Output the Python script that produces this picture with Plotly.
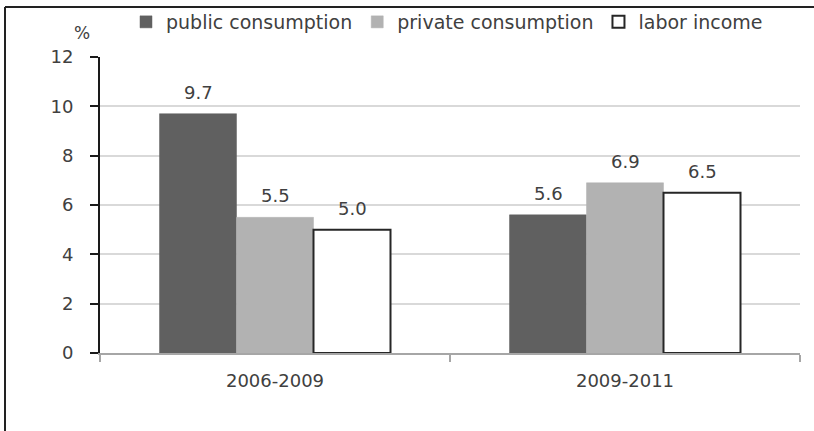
import plotly.graph_objects as go

# Average annual growth rates (%) by period
periods = ["2006-2009", "2009-2011"]
series_names = ["public consumption", "private consumption", "labor income"]
public_consumption = [9.7, 5.6]
private_consumption = [5.5, 6.9]
labor_income = [5.0, 6.5]
y_ticks = [0, 2, 4, 6, 8, 10, 12]

series_values = [public_consumption, private_consumption, labor_income]
fills = ["#606060", "#b2b2b2", "#ffffff"]
outlines = ["#606060", "#b2b2b2", "#262626"]

W, H = 814, 431
M_L, M_R, M_T, M_B = 100, 14, 57, 78
plot_w = W - M_L - M_R
plot_h = H - M_T - M_B
BARGAP = 0.34
FONT = "DejaVu Sans"
TXT = "#404040"

fig = go.Figure()
for name, vals, fc, lc in zip(series_names, series_values, fills, outlines):
    fig.add_trace(go.Bar(
        x=periods, y=vals, name=name,
        marker=dict(color=fc, line=dict(color=lc, width=2 if fc == "#ffffff" else 0.5)),
    ))

# value labels above each bar, shifted to the bar's slot within the group
bar_px = plot_w / len(periods) * (1 - BARGAP) / len(series_values)
annotations = []
for k, vals in enumerate(series_values):
    for p, v in zip(periods, vals):
        annotations.append(dict(
            x=p, y=v, xref="x", yref="y", text=f"{v:.1f}", showarrow=False,
            xshift=(k - (len(series_values) - 1) / 2) * bar_px,
            yanchor="bottom", yshift=9,
            font=dict(family=FONT, size=18, color=TXT),
        ))


def px_x(p):
    return (p - M_L) / plot_w


def px_y(p):
    return (M_T + plot_h - p) / plot_h


# unit label above the y axis
annotations.append(dict(
    x=px_x(82), y=px_y(33), xref="paper", yref="paper",
    text="%", showarrow=False, font=dict(family=FONT, size=17, color=TXT),
    xanchor="center", yanchor="middle",
))

# chart frame (left and top edges)
shapes = [
    dict(type="line", xref="paper", yref="paper", x0=px_x(5), x1=px_x(5),
         y0=px_y(7), y1=px_y(H + 10), line=dict(color="#222222", width=2)),
    dict(type="line", xref="paper", yref="paper", x0=px_x(5), x1=px_x(W + 10),
         y0=px_y(7), y1=px_y(7), line=dict(color="#222222", width=2)),
]

fig.update_layout(
    width=W, height=H,
    margin=dict(l=M_L, r=M_R, t=M_T, b=M_B, pad=0, autoexpand=False),
    paper_bgcolor="white", plot_bgcolor="white",
    barmode="group", bargap=BARGAP, bargroupgap=0,
    font=dict(family=FONT, size=18, color=TXT),
    showlegend=True,
    legend=dict(
        orientation="h", x=px_x(126), y=px_y(22), xanchor="left", yanchor="middle",
        font=dict(family=FONT, size=19, color=TXT), itemwidth=30,
        bgcolor="rgba(0,0,0,0)", traceorder="normal",
    ),
    annotations=annotations,
    shapes=shapes,
    xaxis=dict(
        type="category", tickson="boundaries", ticks="outside", ticklen=7,
        tickcolor="#a6a6a6", tickwidth=2,
        showline=True, linecolor="#a6a6a6", linewidth=2,
        showgrid=False, zeroline=False, ticklabelstandoff=10,
        tickfont=dict(family=FONT, size=18, color=TXT),
    ),
    yaxis=dict(
        range=[0, 12], tickvals=y_ticks, ticks="outside", ticklen=8,
        tickcolor="#1a1a1a", tickwidth=2,
        showline=True, linecolor="#1a1a1a", linewidth=2,
        showgrid=True, gridcolor="#d9d9d9", gridwidth=1.5,
        zeroline=False, ticklabelstandoff=13,
        tickfont=dict(family=FONT, size=18, color=TXT),
    ),
)

fig.write_html("out.html")
